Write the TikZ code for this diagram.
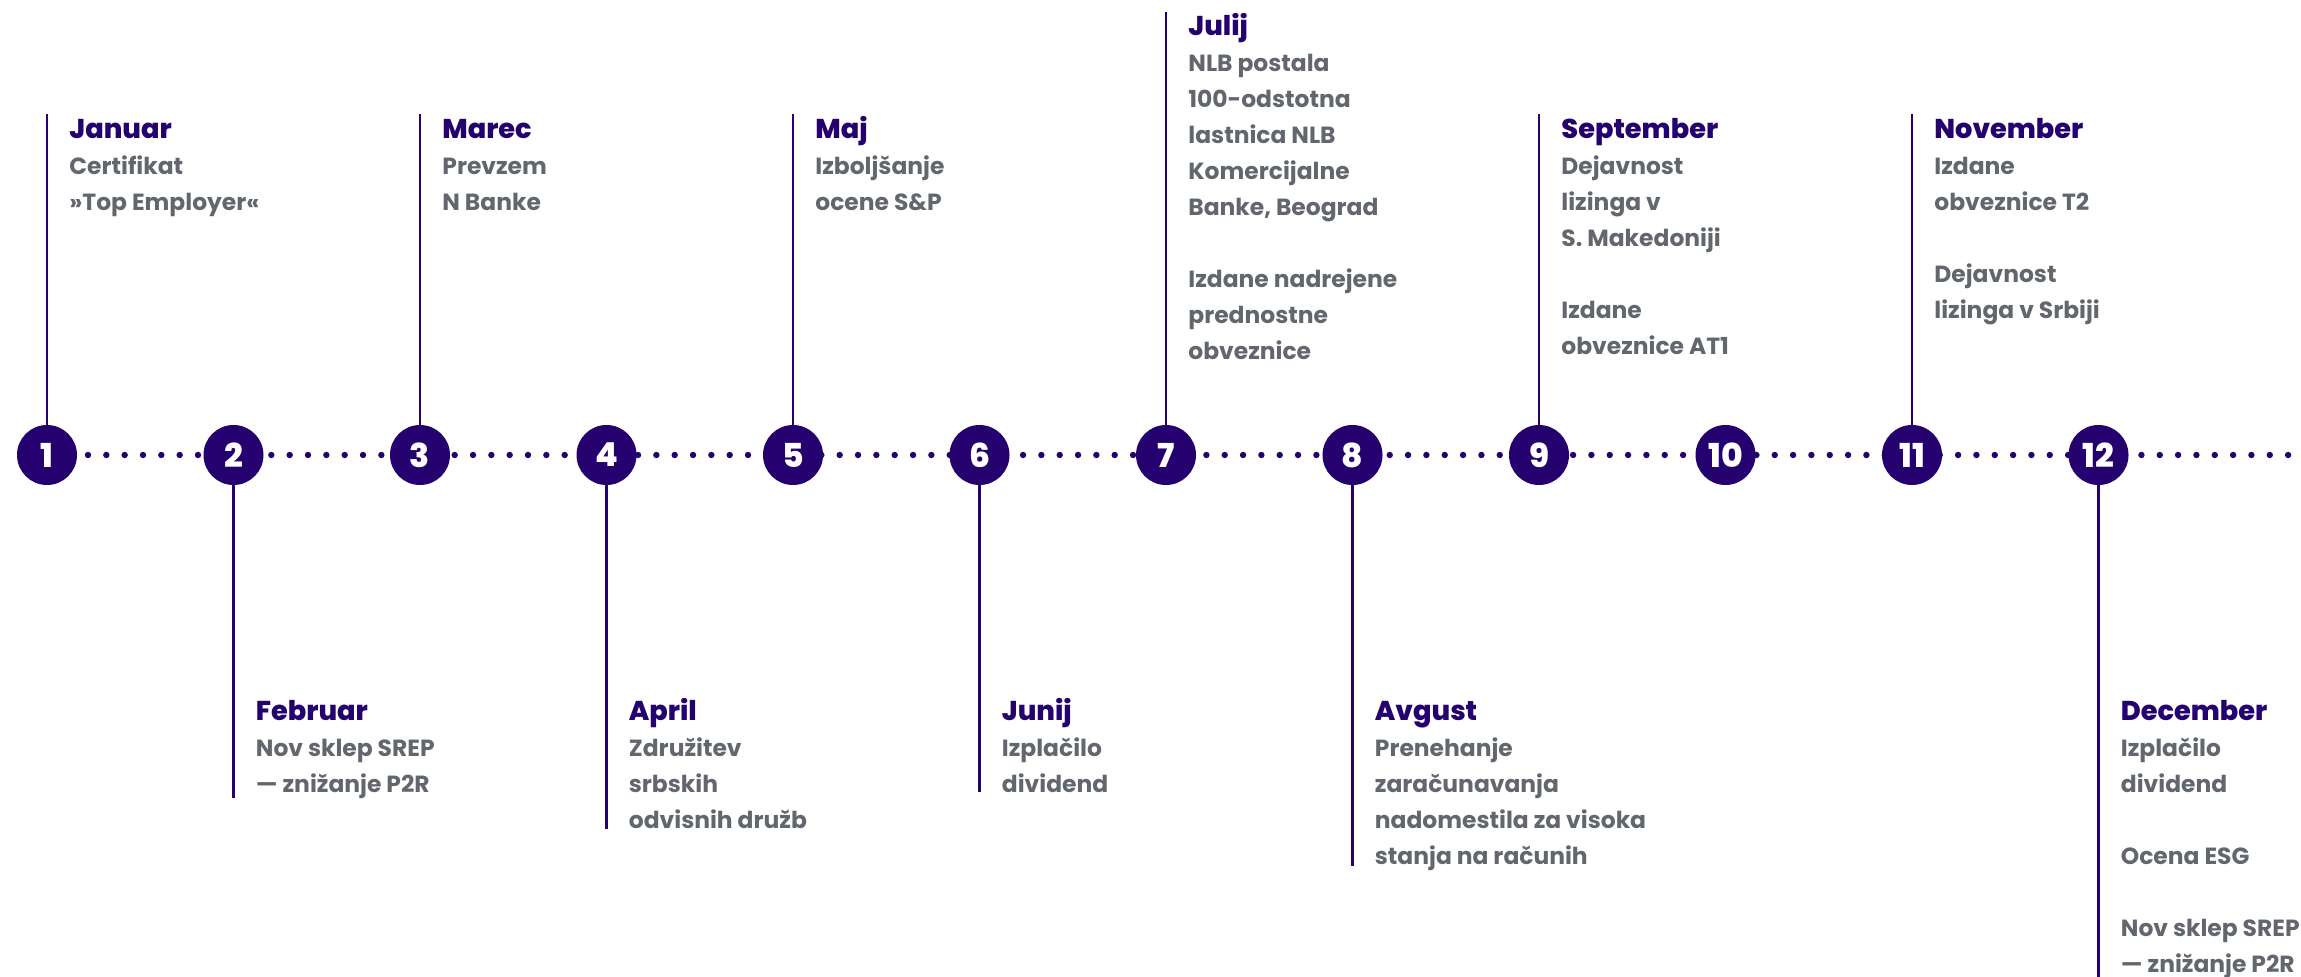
\documentclass[tikz,border=0pt]{standalone}
\usepackage{fontspec}
\setmainfont{Poppins}
\newfontfamily\naslov{Poppins ExtraBold}
\usetikzlibrary{positioning,backgrounds}
\definecolor{vijola}{HTML}{25006F}
\definecolor{siva}{HTML}{62666D}

\begin{document}
\begin{tikzpicture}[x=0.5pt,y=-0.5pt,
  krog/.style={circle,fill=vijola,minimum size=30pt,inner sep=0pt,text=white,font=\naslov\fontsize{16.5}{16.5}\selectfont},
  crta/.style={draw=vijola,line width=1.4pt},
  pike/.style={draw=vijola,line width=3.2pt,line cap=round,dash pattern=on 0pt off 9.167pt,dash phase=7pt},
  mesec/.style={anchor=base west,inner sep=0pt,text=vijola,font=\naslov\fontsize{13.6}{18}\selectfont},
  opis/.style={anchor=base west,inner sep=0pt,align=left,text=siva,font=\bfseries\fontsize{11.7}{18}\selectfont}]

  \useasboundingbox (0,0) rectangle (2301,977);%okvir slike

  \coordinate (rep) at (2310,455);%konec pikcaste crte
  \node[krog] (k1) at (47,455) {1};
  \node[krog] (k2) at (233.5,455) {2};
  \node[krog] (k3) at (420,455) {3};
  \node[krog] (k4) at (606.5,455) {4};
  \node[krog] (k5) at (793,455) {5};
  \node[krog] (k6) at (979.5,455) {6};
  \node[krog] (k7) at (1166,455) {7};
  \node[krog] (k8) at (1352.5,455) {8};
  \node[krog] (k9) at (1539,455) {9};
  \node[krog] (k10) at (1725.5,455) {10};
  \node[krog] (k11) at (1912,455) {11};
  \node[krog] (k12) at (2098.5,455) {12};
  \begin{scope}[on background layer]
    \draw[pike] (k1.center) -- (rep);%pikcasta os pod krogi
  \end{scope}

  \coordinate (z1) at (47,114);%zgornji konci crt
  \coordinate (z3) at (420,114);
  \coordinate (z5) at (793,114);
  \coordinate (z7) at (1166,12);
  \coordinate (z9) at (1539,114);
  \coordinate (z11) at (1912,114);
  \coordinate (s2) at (233.5,798);%spodnji konci crt
  \coordinate (s4) at (606.5,829);
  \coordinate (s6) at (979.5,792);
  \coordinate (s8) at (1352.5,866);
  \coordinate (s12) at (2098.5,977);

  \draw[crta] (k1) -- (z1);
  \draw[crta] (k3) -- (z3);
  \draw[crta] (k5) -- (z5);
  \draw[crta] (k7) -- (z7);
  \draw[crta] (k9) -- (z9);
  \draw[crta] (k11) -- (z11);
  \draw[crta] (k2) -- (s2);
  \draw[crta] (k4) -- (s4);
  \draw[crta] (k6) -- (s6);
  \draw[crta] (k8) -- (s8);
  \draw[crta] (k12) -- (s12);

  %opisi: sidro je osnovnica zadnje vrstice
  \node[mesec] (m1) at (69,139) {Januar};
  \node[opis] (o1) at ([yshift=-36pt]m1.base west) {Certifikat\\»Top Employer«};
  \node[mesec] (m3) at (442,139) {Marec};
  \node[opis] (o3) at ([yshift=-36pt]m3.base west) {Prevzem\\N Banke};
  \node[mesec] (m5) at (815,139) {Maj};
  \node[opis] (o5) at ([yshift=-36pt]m5.base west) {Izboljšanje\\ocene S\&P};
  \node[mesec] (m7) at (1188,36) {Julij};
  \node[opis] (o7) at ([yshift=-162pt]m7.base west) {NLB postala\\100-odstotna\\lastnica NLB\\Komercijalne\\Banke, Beograd\\[18pt]Izdane nadrejene\\prednostne\\obveznice};
  \node[mesec] (m9) at (1561,139) {September};
  \node[opis] (o9) at ([yshift=-108pt]m9.base west) {Dejavnost\\lizinga v\\S. Makedoniji\\[18pt]Izdane\\obveznice AT1};
  \node[mesec] (m11) at (1934,139) {November};
  \node[opis] (o11) at ([yshift=-90pt]m11.base west) {Izdane\\obveznice T2\\[18pt]Dejavnost\\lizinga v Srbiji};

  \node[mesec] (m2) at (255.5,720) {Februar};
  \node[opis] (o2) at ([yshift=-36pt]m2.base west) {Nov sklep SREP\\— znižanje P2R};
  \node[mesec] (m4) at (628.5,720) {April};
  \node[opis] (o4) at ([yshift=-54pt]m4.base west) {Združitev\\srbskih\\odvisnih družb};
  \node[mesec] (m6) at (1001.5,720) {Junij};
  \node[opis] (o6) at ([yshift=-36pt]m6.base west) {Izplačilo\\dividend};
  \node[mesec] (m8) at (1374.5,720) {Avgust};
  \node[opis] (o8) at ([yshift=-72pt]m8.base west) {Prenehanje\\zaračunavanja\\nadomestila za visoka\\stanja na računih};
  \node[mesec] (m12) at (2120.5,720) {December};
  \node[opis] (o12) at ([yshift=-126pt]m12.base west) {Izplačilo\\dividend\\[18pt]Ocena ESG\\[18pt]Nov sklep SREP\\— znižanje P2R};
\end{tikzpicture}
\end{document}
